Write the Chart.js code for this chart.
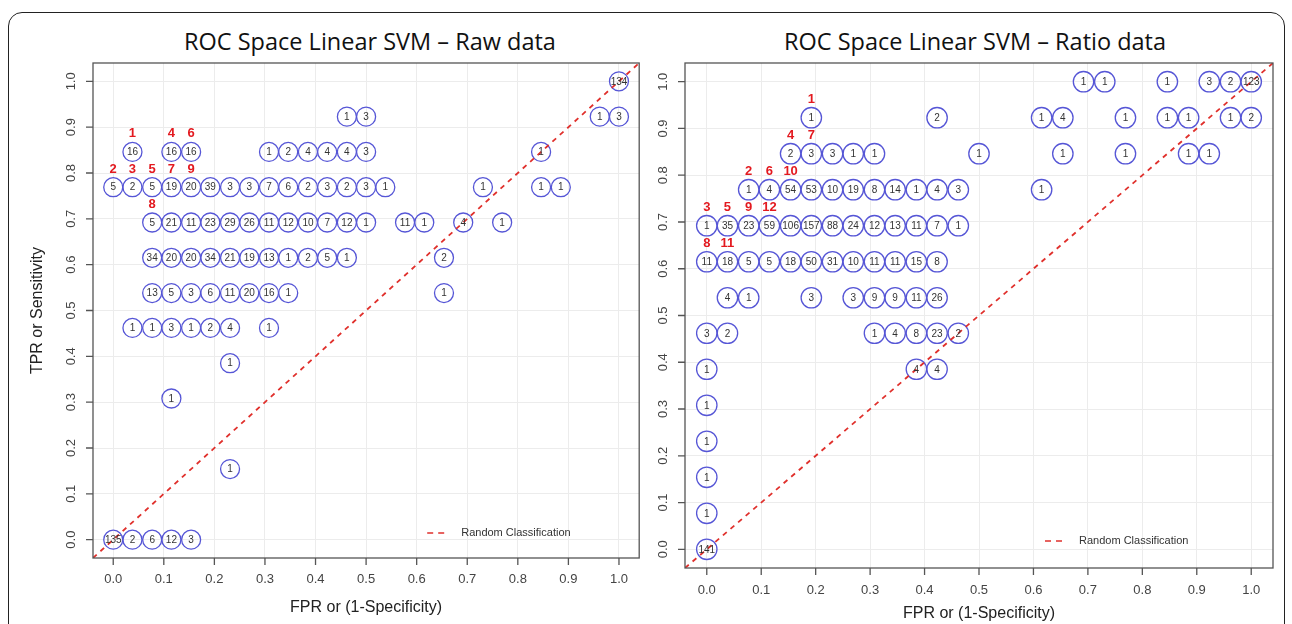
<!DOCTYPE html>
<html>
<head>
<meta charset="utf-8">
<title>ROC Space Linear SVM</title>
<script src="https://cdn.jsdelivr.net/npm/chart.js@4.4.1/dist/chart.umd.min.js"></script>
<style>
  body { margin: 0; width: 1292px; height: 624px; overflow: hidden; background: #fff; position: relative; }
  .frame { position: absolute; left: 8px; top: 12px; width: 1275px; height: 700px; border: 1.5px solid #222; border-radius: 14px; }
  .title { position: absolute; top: 25px; width: 600px; text-align: center; font-family: 'Open Sans', Lato, sans-serif; font-weight: 400; font-size: 23.5px; color: #111; }
  canvas { position: absolute; top: 0; }
</style>
</head>
<body>
<div class="frame"></div>
<div class="title" style="left:70px">ROC Space Linear SVM – Raw data</div>
<div class="title" style="left:675px">ROC Space Linear SVM – Ratio data</div>
<canvas id="rawChart" width="650" height="624" style="left:0"></canvas>
<canvas id="ratioChart" width="642" height="624" style="left:650px"></canvas>
<script>
// Axis ticks shared by both panels
const axisTicks = [0, 0.1, 0.2, 0.3, 0.4, 0.5, 0.6, 0.7, 0.8, 0.9, 1.0];
const tickLabels = ['0.0', '0.1', '0.2', '0.3', '0.4', '0.5', '0.6', '0.7', '0.8', '0.9', '1.0'];
const axisMin = -0.04;
const axisMax = 1.04;

// Raw data panel: one TPR level per row, FPR positions and counts of each circle
const rawTpr = [1.000, 0.923, 0.846, 0.769, 0.692, 0.615, 0.538, 0.462, 0.385, 0.308, 0.154, 0.000];
const rawFpr = [
  [1],
  [0.462, 0.5, 0.962, 1],
  [0.038, 0.115, 0.154, 0.308, 0.346, 0.385, 0.423, 0.462, 0.5, 0.846],
  [0, 0.038, 0.077, 0.115, 0.154, 0.192, 0.231, 0.269, 0.308, 0.346, 0.385, 0.423, 0.462, 0.5, 0.538, 0.731, 0.846, 0.885],
  [0.077, 0.115, 0.154, 0.192, 0.231, 0.269, 0.308, 0.346, 0.385, 0.423, 0.462, 0.5, 0.577, 0.615, 0.692, 0.769],
  [0.077, 0.115, 0.154, 0.192, 0.231, 0.269, 0.308, 0.346, 0.385, 0.423, 0.462, 0.654],
  [0.077, 0.115, 0.154, 0.192, 0.231, 0.269, 0.308, 0.346, 0.654],
  [0.038, 0.077, 0.115, 0.154, 0.192, 0.231, 0.308],
  [0.231],
  [0.115],
  [0.231],
  [0, 0.038, 0.077, 0.115, 0.154]
];
const rawCount = [
  [134],
  [1, 3, 1, 3],
  [16, 16, 16, 1, 2, 4, 4, 4, 3, 1],
  [5, 2, 5, 19, 20, 39, 3, 3, 7, 6, 2, 3, 2, 3, 1, 1, 1, 1],
  [5, 21, 11, 23, 29, 26, 11, 12, 10, 7, 12, 1, 11, 1, 4, 1],
  [34, 20, 20, 34, 21, 19, 13, 1, 2, 5, 1, 2],
  [13, 5, 3, 6, 11, 20, 16, 1, 1],
  [1, 1, 3, 1, 2, 4, 1],
  [1],
  [1],
  [1],
  [135, 2, 6, 12, 3]
];
const rawRank = [1, 2, 3, 4, 5, 6, 7, 8, 9];
const rawRankFpr = [0.038, 0, 0.038, 0.115, 0.077, 0.154, 0.115, 0.077, 0.154];
const rawRankTpr = [0.846, 0.769, 0.769, 0.846, 0.769, 0.846, 0.769, 0.692, 0.769];

// Ratio data panel
const ratioTpr = [1.000, 0.923, 0.846, 0.769, 0.692, 0.615, 0.538, 0.462, 0.385, 0.308, 0.231, 0.154, 0.077, 0.000];
const ratioFpr = [
  [0.692, 0.731, 0.846, 0.923, 0.962, 1],
  [0.192, 0.423, 0.615, 0.654, 0.769, 0.846, 0.885, 0.962, 1],
  [0.154, 0.192, 0.231, 0.269, 0.308, 0.5, 0.654, 0.769, 0.885, 0.923],
  [0.077, 0.115, 0.154, 0.192, 0.231, 0.269, 0.308, 0.346, 0.385, 0.423, 0.462, 0.615],
  [0, 0.038, 0.077, 0.115, 0.154, 0.192, 0.231, 0.269, 0.308, 0.346, 0.385, 0.423, 0.462],
  [0, 0.038, 0.077, 0.115, 0.154, 0.192, 0.231, 0.269, 0.308, 0.346, 0.385, 0.423],
  [0.038, 0.077, 0.192, 0.269, 0.308, 0.346, 0.385, 0.423],
  [0, 0.038, 0.308, 0.346, 0.385, 0.423, 0.462],
  [0, 0.385, 0.423],
  [0],
  [0],
  [0],
  [0],
  [0]
];
const ratioCount = [
  [1, 1, 1, 3, 2, 123],
  [1, 2, 1, 4, 1, 1, 1, 1, 2],
  [2, 3, 3, 1, 1, 1, 1, 1, 1, 1],
  [1, 4, 54, 53, 10, 19, 8, 14, 1, 4, 3, 1],
  [1, 35, 23, 59, 106, 157, 88, 24, 12, 13, 11, 7, 1],
  [11, 18, 5, 5, 18, 50, 31, 10, 11, 11, 15, 8],
  [4, 1, 3, 3, 9, 9, 11, 26],
  [3, 2, 1, 4, 8, 23, 2],
  [1, 4, 4],
  [1],
  [1],
  [1],
  [1],
  [141]
];
const ratioRank = [1, 2, 3, 4, 5, 6, 7, 8, 9, 10, 11, 12];
const ratioRankFpr = [0.192, 0.077, 0, 0.154, 0.038, 0.115, 0.192, 0, 0.077, 0.154, 0.038, 0.115];
const ratioRankTpr = [0.923, 0.769, 0.692, 0.846, 0.692, 0.769, 0.846, 0.615, 0.692, 0.769, 0.615, 0.692];

const AXIS_FONT = "'Liberation Sans', Arial, sans-serif";

// Draws circle counts, red rank numbers, R-style box/axes and the legend
const rocDecor = {
  id: 'rocDecor',
  afterDatasetsDraw(chart, args, opts) {
    const ctx = chart.ctx;
    const xs = chart.scales.x, ys = chart.scales.y;
    const meta = chart.getDatasetMeta(1);
    ctx.save();
    ctx.fillStyle = '#333';
    ctx.font = '10px ' + AXIS_FONT;
    ctx.textAlign = 'center';
    ctx.textBaseline = 'middle';
    meta.data.forEach((pt, k) => {
      ctx.fillText(String(opts.counts[k]), pt.x, pt.y + 0.5);
    });
    ctx.fillStyle = '#e3191f';
    ctx.font = 'bold 13px ' + AXIS_FONT;
    opts.ranks.forEach((r, k) => {
      ctx.fillText(String(r), xs.getPixelForValue(opts.rankFpr[k]), ys.getPixelForValue(opts.rankTpr[k]) - 18);
    });
    ctx.restore();
  },
  afterDraw(chart, args, opts) {
    const ctx = chart.ctx;
    const area = chart.chartArea;
    const xs = chart.scales.x, ys = chart.scales.y;
    ctx.save();
    // plot box
    ctx.strokeStyle = '#555';
    ctx.lineWidth = 1.3;
    ctx.strokeRect(area.left, area.top, area.right - area.left, area.bottom - area.top);
    // ticks + labels
    ctx.fillStyle = '#444';
    ctx.font = '13px ' + AXIS_FONT;
    ctx.textAlign = 'center';
    ctx.textBaseline = 'middle';
    ctx.beginPath();
    axisTicks.forEach((v, k) => {
      const px = xs.getPixelForValue(v);
      ctx.moveTo(px, area.bottom);
      ctx.lineTo(px, area.bottom + 7);
      ctx.fillText(tickLabels[k], px, area.bottom + opts.xLabelGap);
      const py = ys.getPixelForValue(v);
      ctx.moveTo(area.left, py);
      ctx.lineTo(area.left - 7, py);
      ctx.save();
      ctx.translate(area.left - 22, py);
      ctx.rotate(-Math.PI / 2);
      ctx.fillText(tickLabels[k], 0, 0);
      ctx.restore();
    });
    ctx.stroke();
    // axis titles
    ctx.fillStyle = '#222';
    ctx.font = '16px ' + AXIS_FONT;
    ctx.fillText('FPR or (1-Specificity)', (area.left + area.right) / 2, area.bottom + opts.xTitleGap);
    if (opts.showYTitle) {
      ctx.save();
      ctx.translate(area.left - 55, (area.top + area.bottom) / 2);
      ctx.rotate(-Math.PI / 2);
      ctx.fillText('TPR or Sensitivity', 0, 0);
      ctx.restore();
    }
    // legend
    const lx = area.right - opts.legendRight;
    const ly = area.bottom - opts.legendBottom;
    ctx.strokeStyle = '#e0302c';
    ctx.lineWidth = 1.6;
    ctx.setLineDash([6, 5]);
    ctx.beginPath();
    ctx.moveTo(lx, ly);
    ctx.lineTo(lx + 18, ly);
    ctx.stroke();
    ctx.setLineDash([]);
    ctx.fillStyle = '#333';
    ctx.font = '11px ' + AXIS_FONT;
    ctx.textAlign = 'left';
    ctx.fillText('Random Classification', lx + 34, ly);
    ctx.restore();
  }
};

function makeRocChart(canvasId, tprRows, fprRows, countRows, ranks, rankFpr, rankTpr, look) {
  const points = [];
  const counts = [];
  tprRows.forEach((tpr, r) => {
    fprRows[r].forEach((fpr, k) => {
      points.push({ x: fpr, y: tpr });
      counts.push(countRows[r][k]);
    });
  });

  const axis = {
    type: 'linear',
    min: axisMin,
    max: axisMax,
    afterBuildTicks: (scale) => { scale.ticks = axisTicks.map(v => ({ value: v })); },
    ticks: { display: false },
    grid: { color: '#ececec', lineWidth: 1, drawTicks: false },
    border: { display: false }
  };

  return new Chart(document.getElementById(canvasId), {
    type: 'scatter',
    data: {
      datasets: [
        {
          label: 'Random Classification',
          type: 'line',
          data: [{ x: axisMin, y: axisMin }, { x: axisMax, y: axisMax }],
          borderColor: '#e0302c',
          borderWidth: 1.8,
          borderDash: [5, 5],
          pointRadius: 0,
          fill: false,
          order: 0
        },
        {
          label: 'Parameter sets',
          data: points,
          pointStyle: 'circle',
          pointRadius: look.radius,
          pointBorderColor: '#5656d6',
          pointBackgroundColor: 'rgba(255,255,255,0)',
          pointBorderWidth: 1.3,
          order: 1
        }
      ]
    },
    options: {
      responsive: false,
      animation: false,
      events: [],
      layout: { padding: look.padding },
      scales: { x: axis, y: Object.assign({}, axis) },
      plugins: {
        legend: { display: false },
        tooltip: { enabled: false },
        rocDecor: Object.assign({ counts, ranks, rankFpr, rankTpr }, look.decor)
      }
    },
    plugins: [rocDecor]
  });
}

makeRocChart('rawChart', rawTpr, rawFpr, rawCount, rawRank, rawRankFpr, rawRankTpr, {
  radius: 9.5,
  padding: { left: 93, right: 10, top: 63, bottom: 66 },
  decor: { xLabelGap: 21, xTitleGap: 50, showYTitle: true, legendRight: 212, legendBottom: 25 }
});

makeRocChart('ratioChart', ratioTpr, ratioFpr, ratioCount, ratioRank, ratioRankFpr, ratioRankTpr, {
  radius: 10.2,
  padding: { left: 35, right: 19, top: 63, bottom: 56 },
  decor: { xLabelGap: 22, xTitleGap: 46, showYTitle: false, legendRight: 228, legendBottom: 27 }
});
</script>
</body>
</html>
